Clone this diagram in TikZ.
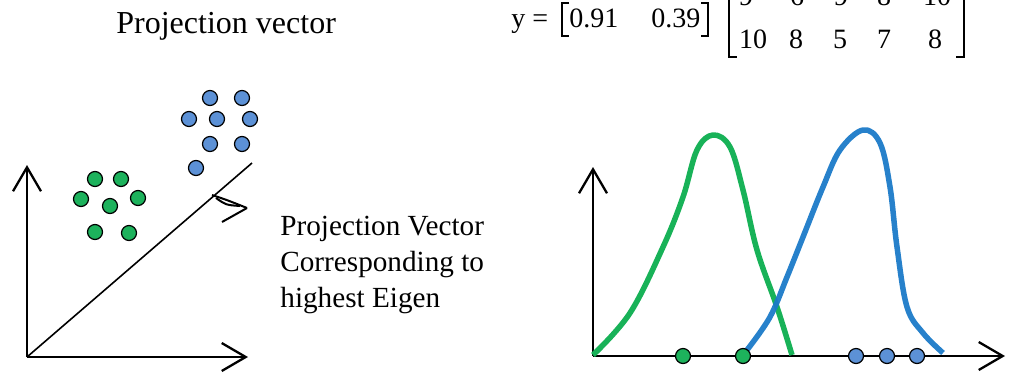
\documentclass[tikz,border=0pt]{standalone}
\usepackage{fontspec}
\setmainfont{Liberation Serif}
\usetikzlibrary{arrows.meta}

\definecolor{dotgreen}{RGB}{29,178,92}
\definecolor{dotblue}{RGB}{92,145,214}
\definecolor{curvegreen}{RGB}{24,178,88}
\definecolor{curveblue}{RGB}{27,122,200}

\tikzset{
  axis/.style={line width=1.15pt, -{Straight Barb[length=12pt,width=14pt,line width=1.15pt]}},
  greendot/.style={circle, draw=black, line width=0.6pt, fill=dotgreen, minimum size=7.5pt, inner sep=0pt},
  bluedot/.style={circle, draw=black, line width=0.6pt, fill=dotblue, minimum size=7.5pt, inner sep=0pt},
  entry/.style={anchor=base, inner sep=0pt, font=\fontsize{14}{17}\selectfont},
  label/.style={anchor=base west, inner sep=0pt, font=\fontsize{14.6}{18}\selectfont},
  bracket/.style={line width=0.75pt},
  density/.style={line width=2.75pt, line join=round}
}

\begin{document}
\begin{tikzpicture}[x=0.5pt, y=-0.5pt]
\useasboundingbox (0,0) rectangle (1012,376);

% title and projection
\node[anchor=base west, inner sep=0pt, font=\fontsize{16}{19}\selectfont] (title) at (116,33) {Projection vector};

\node[entry, anchor=base west] (ylab) at (511,27) {y =};
\draw[bracket] (569,3) -- (562,3) -- (562,36) -- (569,36);
\draw[bracket] (701,3) -- (708,3) -- (708,36) -- (701,36);
\node[entry, anchor=base west] (w1) at (569,27) {0.91};
\node[entry, anchor=base west] (w2) at (651,27) {0.39};

\draw[bracket] (737,-60) -- (729,-60) -- (729,57) -- (737,57);
\draw[bracket] (956,-60) -- (964,-60) -- (964,57) -- (956,57);
\foreach \x/\v [count=\i] in {746/9, 797/6, 841/9, 884/8, 937/10}
  \node[entry] (a\i) at (\x,5) {\v};
\foreach \x/\v [count=\i] in {753/10, 796/8, 840/5, 884/7, 935/8}
  \node[entry] (b\i) at (\x,48) {\v};

% left: data points and projection line
\coordinate (o1) at (27,357);
\coordinate (y1) at (27,165);
\coordinate (x1) at (248,357);
\coordinate (d1) at (252,163);
\draw[axis] (o1) -- (y1);
\draw[axis] (o1) -- (x1);
\draw[line width=0.8pt] (o1) -- (d1);
\draw[line width=1pt] (212,195) .. controls (227,200) .. (247,208);
\draw[line width=1pt] (216,198) .. controls (226,205) .. (240,206);
\draw[line width=1pt] (247,208) -- (222,222);

\foreach \p [count=\i] in {(95,179),(121,179),(81,199),(110,206),(138,198),(95,232),(129,233)}
  \node[greendot] (g\i) at \p {};
\foreach \p [count=\i] in {(210,98),(242,98),(189,119),(217,119),(250,119),(210,144),(242,144),(196,168)}
  \node[bluedot] (c\i) at \p {};

\node[label] (pv1) at (280,235) {Projection Vector};
\node[label] (pv2) at (280,271) {Corresponding to};
\node[label] (pv3) at (280,307) {highest Eigen};

% right: projected classes
\coordinate (o2) at (593,356);
\coordinate (y2) at (593,167);
\coordinate (x2) at (1005,356);
\draw[axis] (o2) -- (y2);
\draw[axis] (o2) -- (x2);

\draw[density, curvegreen] plot[smooth, tension=0.6] coordinates {(593,355) (630,313) (663,247) (683,197) (697,150) (713,135) (730,147) (743,190) (757,250) (777,307) (792,355)};
\draw[density, curveblue, opacity=0.95] plot[smooth, tension=0.6] coordinates {(747,350) (770,317) (787,277) (803,237) (823,187) (840,150) (863,130) (880,143) (890,187) (897,247) (907,307) (923,333) (943,353)};

\node[greendot] (p1) at (683,356) {};
\node[greendot] (p2) at (743,356) {};
\node[bluedot] (q1) at (856,356) {};
\node[bluedot] (q2) at (887,356) {};
\node[bluedot] (q3) at (917,356) {};
\end{tikzpicture}
\end{document}
